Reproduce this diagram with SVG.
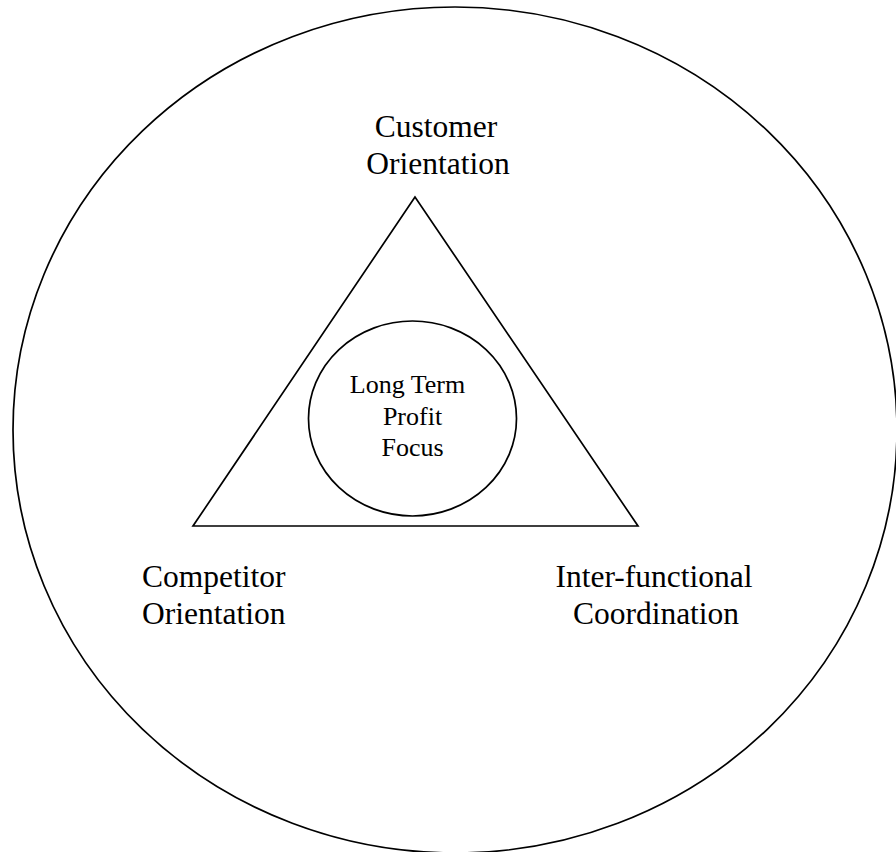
<svg xmlns="http://www.w3.org/2000/svg" width="896" height="852" viewBox="0 0 896 852">
  <style>
    .shape { fill: none; stroke: #000; stroke-width: 1.7; }
    .lbl { font-family: "Liberation Serif", "Times New Roman", serif; fill: #000; }
    .big { font-size: 31.5px; }
    .small { font-size: 26px; }
  </style>
  <rect width="896" height="852" fill="#fff"/>

  <!-- outer boundary -->
  <g id="outer-circle">
    <ellipse class="shape" cx="455" cy="430" rx="442" ry="423"/>
  </g>

  <!-- orientation triangle -->
  <g id="triangle">
    <polygon class="shape" points="415,197 193,526 638,526"/>
  </g>

  <!-- core focus -->
  <g id="profit-focus">
    <ellipse class="shape" cx="412.5" cy="418.5" rx="104" ry="97.5"/>
    <text class="lbl small" x="407.5" y="393" text-anchor="middle">Long Term</text>
    <text class="lbl small" x="412.5" y="424.5" text-anchor="middle">Profit</text>
    <text class="lbl small" x="412.5" y="455.5" text-anchor="middle">Focus</text>
  </g>

  <g id="customer-orientation">
    <text class="lbl big" x="436" y="137" text-anchor="middle">Customer</text>
    <text class="lbl big" x="438" y="174" text-anchor="middle">Orientation</text>
  </g>

  <g id="competitor-orientation">
    <text class="lbl big" x="142" y="587">Competitor</text>
    <text class="lbl big" x="142" y="624">Orientation</text>
  </g>

  <g id="interfunctional-coordination">
    <text class="lbl big" x="654" y="587" text-anchor="middle">Inter-functional</text>
    <text class="lbl big" x="656" y="624" text-anchor="middle">Coordination</text>
  </g>

  <g id="connectors"></g>
</svg>
